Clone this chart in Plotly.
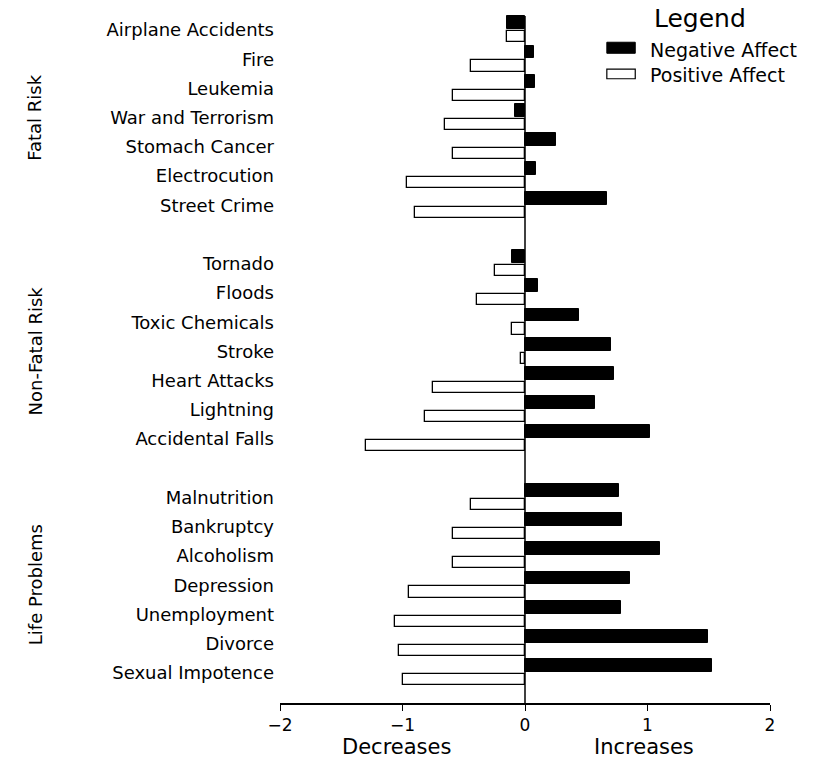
import plotly.graph_objects as go

categories = ["Airplane Accidents", "Fire", "Leukemia", "War and Terrorism", "Stomach Cancer",
              "Electrocution", "Street Crime",
              "Tornado", "Floods", "Toxic Chemicals", "Stroke", "Heart Attacks", "Lightning",
              "Accidental Falls",
              "Malnutrition", "Bankruptcy", "Alcoholism", "Depression", "Unemployment", "Divorce",
              "Sexual Impotence"]
negative_affect = [-0.15, 0.07, 0.08, -0.08, 0.25, 0.09, 0.67,
                   -0.11, 0.11, 0.44, 0.70, 0.73, 0.57, 1.02,
                   0.77, 0.79, 1.10, 0.86, 0.78, 1.49, 1.53]
positive_affect = [-0.15, -0.44, -0.59, -0.65, -0.59, -0.96, -0.90,
                   -0.245, -0.39, -0.11, -0.03, -0.75, -0.82, -1.30,
                   -0.44, -0.59, -0.59, -0.95, -1.06, -1.03, -1.00]
groups = ["Fatal Risk", "Non-Fatal Risk", "Life Problems"]
group_sizes = [7, 7, 7]
x_ticks = [-2, -1, 0, 1, 2]
x_ticktext = ["\u22122", "\u22121", "0", "1", "2"]

# slot positions: groups separated by one empty slot
positions = []
group_centers = []
slot = 0
for gi, n in enumerate(group_sizes):
    start = slot
    for i in range(n):
        positions.append(slot)
        slot += 1
    group_centers.append((start + slot - 1) / 2)
    slot += 1

FONT = "DejaVu Sans"

fig = go.Figure()
fig.add_trace(go.Bar(
    y=positions, x=negative_affect, orientation="h",
    offset=-0.47, width=0.44,
    marker=dict(color="black", line=dict(color="black", width=1)),
    name="Negative Affect", showlegend=False))
fig.add_trace(go.Bar(
    y=positions, x=positive_affect, orientation="h",
    offset=0.04, width=0.38,
    marker=dict(color="white", line=dict(color="black", width=1.3)),
    name="Positive Affect", showlegend=False))

# zero line
fig.add_shape(type="line", xref="x", yref="paper", x0=0, x1=0, y0=0, y1=0.997,
              line=dict(color="black", width=1.5))

# group labels
for g, c in zip(groups, group_centers):
    fig.add_annotation(text=g, x=-0.5, xref="paper", xanchor="center",
                       y=c, yref="y", yanchor="middle", textangle=-90,
                       showarrow=False, font=dict(family=FONT, size=18, color="black"))

# custom legend
fig.add_annotation(text="Legend", xref="paper", yref="paper", x=0.857, y=0.993,
                   xanchor="center", yanchor="middle", showarrow=False,
                   font=dict(family=FONT, size=25, color="black"))
fig.add_annotation(text="Negative Affect", xref="paper", yref="paper", x=0.751, y=0.948,
                   xanchor="left", yanchor="middle", showarrow=False,
                   font=dict(family=FONT, size=19, color="black"))
fig.add_annotation(text="Positive Affect", xref="paper", yref="paper", x=0.751, y=0.911,
                   xanchor="left", yanchor="middle", showarrow=False,
                   font=dict(family=FONT, size=19, color="black"))
fig.add_shape(type="rect", xref="paper", yref="paper", x0=0.667, x1=0.725, y0=0.943, y1=0.959,
              fillcolor="black", line=dict(color="black", width=1))
fig.add_shape(type="rect", xref="paper", yref="paper", x0=0.667, x1=0.725, y0=0.906, y1=0.92,
              fillcolor="white", line=dict(color="black", width=1.2))

# axis captions
fig.add_annotation(text="Decreases", xref="x", yref="paper", x=-1.05, y=0, yshift=-44,
                   xanchor="center", yanchor="middle", showarrow=False,
                   font=dict(family=FONT, size=21, color="black"))
fig.add_annotation(text="Increases", xref="x", yref="paper", x=0.97, y=0, yshift=-44,
                   xanchor="center", yanchor="middle", showarrow=False,
                   font=dict(family=FONT, size=21, color="black"))

fig.update_layout(
    width=820, height=760,
    margin=dict(l=280, r=50, t=14, b=57),
    paper_bgcolor="white", plot_bgcolor="white",
    barmode="overlay", bargap=0,
    font=dict(family=FONT, size=18, color="black"),
    xaxis=dict(range=[-2, 2], tickvals=x_ticks, ticktext=x_ticktext,
               showgrid=False, zeroline=False, showline=True, linecolor="black",
               linewidth=1.5, ticks="outside", ticklen=6, tickcolor="black",
               tickfont=dict(family=FONT, size=17), fixedrange=True),
    yaxis=dict(range=[slot - 1 + 0.03, -0.55], tickvals=positions, ticktext=categories,
               showgrid=False, zeroline=False, showline=False, ticks="",
               ticklabelstandoff=5, automargin=False,
               tickfont=dict(family=FONT, size=18), fixedrange=True),
)

fig.write_html("out.html", post_script="document.body.style.margin='0px';",
               config={"displayModeBar": False})
